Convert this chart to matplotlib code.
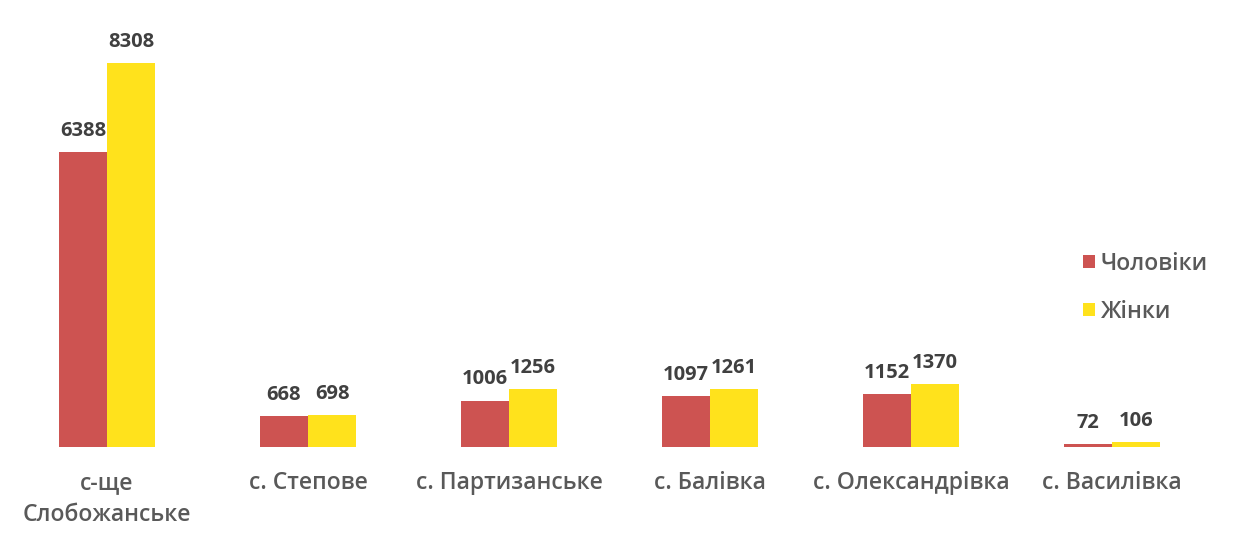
import matplotlib
matplotlib.use("Agg")
import matplotlib.pyplot as plt
import numpy as np

categories = ["с-ще\nСлобожанське", "с. Степове", "с. Партизанське", "с. Балівка",
              "с. Олександрівка", "с. Василівка"]
men = [6388, 668, 1006, 1097, 1152, 72]
women = [8308, 698, 1256, 1261, 1370, 106]
series_names = ["Чоловіки", "Жінки"]

RED = "#CD5351"
YEL = "#FFE21C"

plt.rcParams['font.family'] = ['Open Sans', 'DejaVu Sans']

fig = plt.figure(figsize=(12.42, 5.42), dpi=100)
ax = fig.add_axes([6.5/1242, 95/542, 1206/1242, (511-95)/542])

x = np.arange(len(categories))
w = 0.24
b1 = ax.bar(x - w/2, men, w, color=RED, label=series_names[0])
b2 = ax.bar(x + w/2, women, w, color=YEL, label=series_names[1])

for bars in (b1, b2):
    for r in bars:
        ax.annotate(f"{int(r.get_height())}", (r.get_x() + r.get_width()/2, r.get_height()),
                    xytext=(0, 8), textcoords="offset points", ha="center", va="bottom",
                    fontsize=14.5, fontweight="bold", color="#404040")

ax.set_xlim(-0.5, 5.5)
ax.set_ylim(0, 9000)
ax.set_xticks(x)
ax.set_xticklabels(categories, fontsize=16.5, fontweight="semibold", color="#595959",
                   linespacing=1.45)
ax.tick_params(axis='x', length=0, pad=17)
ax.set_yticks([])
for s in ax.spines.values():
    s.set_visible(False)

leg = fig.legend(handles=[b1, b2], labels=series_names, loc="upper left",
                 bbox_to_anchor=(1062/1242, 1 - 231/542), frameon=False,
                 prop={'size': 16.5, 'weight': 'semibold'},
                 handlelength=0.55, handleheight=0.55, handletextpad=0.25,
                 labelspacing=1.05, labelcolor="#595959")

fig.savefig("out.png", dpi=100)
